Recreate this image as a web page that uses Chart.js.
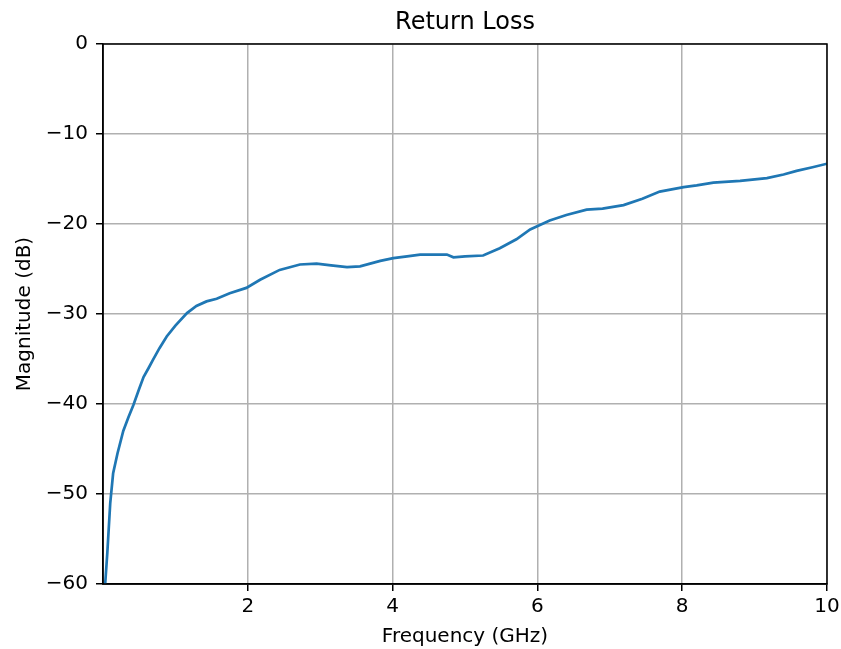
<!DOCTYPE html>
<html>
<head>
<meta charset="utf-8">
<script src="https://cdn.jsdelivr.net/npm/chart.js@4.4.1/dist/chart.umd.min.js"></script>
<style>
  html, body { margin: 0; padding: 0; background: #fff; }
  canvas { display: block; }
</style>
</head>
<body>
<canvas id="rlChart" width="841" height="649"></canvas>
<script>
// datos
const freqGHz = [0.03, 0.06, 0.1, 0.14, 0.2, 0.28, 0.35, 0.42, 0.5, 0.56, 0.63, 0.69, 0.78, 0.88, 1.0,
  1.16, 1.29, 1.43, 1.57, 1.75, 1.98, 2.17, 2.44, 2.72, 2.95, 3.15, 3.37, 3.55, 3.83, 4.01,
  4.2, 4.38, 4.55, 4.75, 4.84, 5.0, 5.25, 5.48, 5.71, 5.9, 6.17, 6.4, 6.68, 6.9, 7.19,
  7.45, 7.69, 8.02, 8.2, 8.43, 8.8, 9.17, 9.4, 9.58, 9.8, 10.0];
const magDb = [-60, -56.5, -51, -47.7, -45.5, -43, -41.5, -40.1, -38.3, -37, -36, -35.1, -33.8, -32.5, -31.3,
  -29.9, -29.1, -28.6, -28.3, -27.7, -27.1, -26.2, -25.1, -24.5, -24.4, -24.6, -24.8, -24.7, -24.1, -23.8,
  -23.6, -23.4, -23.4, -23.4, -23.7, -23.6, -23.5, -22.7, -21.7, -20.6, -19.6, -19.0, -18.4, -18.3, -17.9,
  -17.2, -16.4, -15.9, -15.7, -15.4, -15.2, -14.9, -14.5, -14.1, -13.7, -13.3];
const xTicks = [2, 4, 6, 8, 10];
const yTicks = [-60, -50, -40, -30, -20, -10, 0];

const font = 'DejaVu Sans';
const minus = v => (v < 0 ? '\u2212' + Math.abs(v) : String(v));

// marco negro alrededor del area del grafico
const frame = {
  id: 'frame',
  afterDatasetsDraw(chart) {
    const a = chart.chartArea;
    const c = chart.ctx;
    c.save();
    c.strokeStyle = '#000';
    c.lineWidth = 1.5;
    c.strokeRect(a.left, a.top, a.right - a.left, a.bottom - a.top);
    c.restore();
  }
};

new Chart(document.getElementById('rlChart'), {
  type: 'line',
  data: {
    datasets: [{
      data: freqGHz.map((f, i) => ({ x: f, y: magDb[i] })),
      borderColor: '#1f77b4',
      borderWidth: 2.7,
      pointRadius: 0,
      tension: 0,
      fill: false
    }]
  },
  options: {
    responsive: false,
    animation: false,
    layout: { padding: { left: 0, right: 14, top: 0, bottom: 0 } },
    plugins: {
      legend: { display: false },
      tooltip: { enabled: false },
      title: {
        display: true,
        fullSize: false,
        text: 'Return Loss',
        color: '#000',
        font: { family: font, size: 24, weight: 'normal' },
        padding: { top: 8.6, bottom: 6.6 }
      }
    },
    scales: {
      x: {
        type: 'linear',
        min: 0,
        max: 10,
        afterBuildTicks: s => { s.ticks = xTicks.map(v => ({ value: v })); },
        afterFit: s => { s.height = 65; s.paddingLeft = 0; s.paddingRight = 0; },
        grid: { color: '#b0b0b0', tickColor: '#000', tickLength: 7, lineWidth: 1.5 },
        border: { color: '#000', width: 1.5 },
        ticks: { color: '#000', font: { family: font, size: 20 }, padding: 4, maxRotation: 0 },
        title: {
          display: true,
          text: 'Frequency (GHz)',
          color: '#000',
          font: { family: font, size: 20 },
          padding: { top: 3, bottom: 0 }
        }
      },
      y: {
        min: -60,
        max: 0,
        afterBuildTicks: s => { s.ticks = yTicks.map(v => ({ value: v })); },
        afterFit: s => { s.width = 103; s.paddingTop = 0; s.paddingBottom = 0; },
        grid: { color: '#b0b0b0', tickColor: '#000', tickLength: 7, lineWidth: 1.5 },
        border: { color: '#000', width: 1.5 },
        ticks: { color: '#000', font: { family: font, size: 20 }, padding: 8, callback: v => minus(v) },
        title: {
          display: true,
          text: 'Magnitude (dB)',
          color: '#000',
          font: { family: font, size: 20 },
          padding: { top: 12.5, bottom: 0 }
        }
      }
    }
  },
  plugins: [frame]
});
</script>
</body>
</html>
